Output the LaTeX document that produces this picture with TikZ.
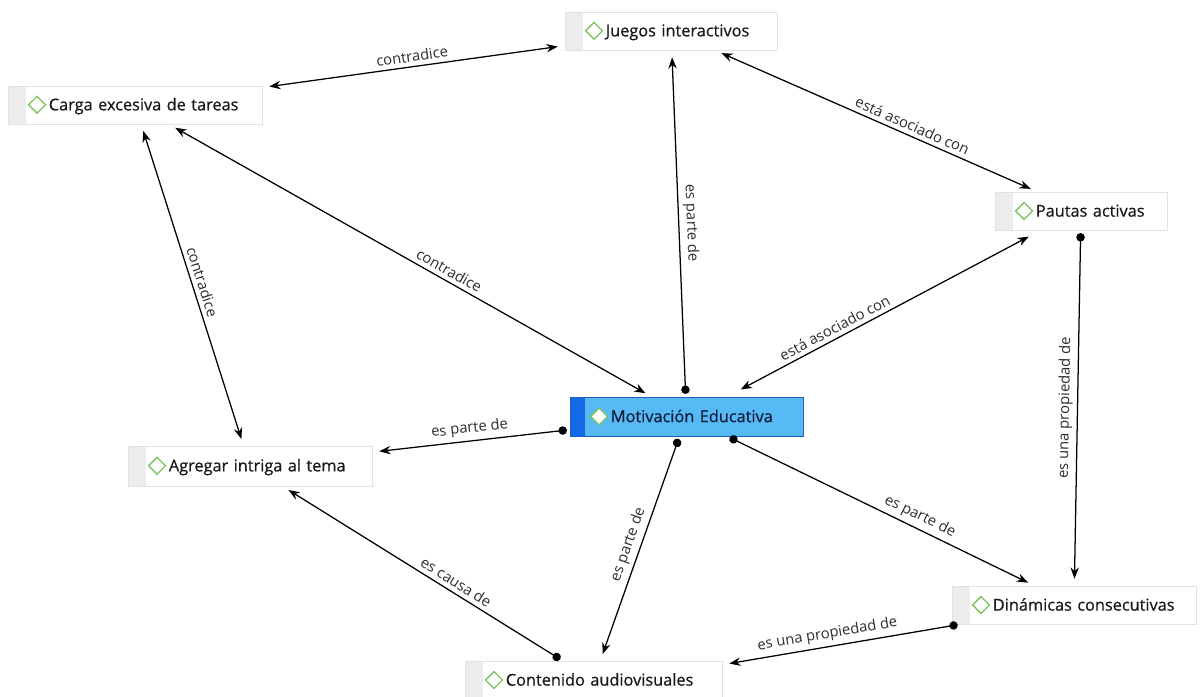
\documentclass[tikz,border=0pt]{standalone}
\usepackage{fontspec}
\setmainfont{Open Sans}
\newfontfamily\codefont[FakeBold=0.6]{Open Sans}
\usetikzlibrary{arrows.meta,calc}

\definecolor{boxline}{RGB}{225,225,225}
\definecolor{barfill}{RGB}{236,236,236}
\definecolor{gemgreen}{RGB}{125,195,95}
\definecolor{corefill}{RGB}{88,186,245}
\definecolor{coreline}{RGB}{30,95,190}
\definecolor{corebar}{RGB}{20,105,230}
\definecolor{ink}{RGB}{25,25,25}
\definecolor{coreink}{RGB}{15,30,60}
\definecolor{labink}{RGB}{45,45,45}

% green diamond in front of each code
\newcommand{\gem}[1][white]{\tikz[x=1cm,y=1cm,baseline=-4pt]\draw[gemgreen,line width=0.9pt,fill=#1] (0,0.21)--(0.21,0)--(0,-0.21)--(-0.21,0)--cycle;}
\newcommand{\code}[1]{\mbox{\gem\hspace{2pt}#1}}

\begin{document}
\begin{tikzpicture}[x=0.025cm,y=-0.025cm,
  concept/.style={draw=boxline, fill=white, text=ink, inner xsep=0.5cm, inner ysep=0pt,
    minimum height=0.95cm, align=left, font=\codefont\fontsize{11.6}{14}\selectfont,
    path picture={\fill[barfill] (path picture bounding box.north west) rectangle ([xshift=0.45cm]path picture bounding box.south west);}},
  core/.style={concept, draw=coreline, fill=corefill, text=coreink,
    path picture={\fill[corebar] (path picture bounding box.north west) rectangle ([xshift=0.37cm]path picture bounding box.south west);}},
  link/.style={draw=black, line width=0.9pt},
  oneway/.style={link, {Circle[length=6pt]}-{Stealth[length=8pt,width=6pt]}, shorten <=2pt, shorten >=5pt},
  twoway/.style={link, {Stealth[length=8pt,width=6pt]}-{Stealth[length=8pt,width=6pt]}, shorten <=5pt, shorten >=5pt},
  lab/.style={font=\fontsize{10.5}{12}\selectfont, text=labink, sloped, above, inner sep=3pt}]
\useasboundingbox (0,0) rectangle (1200,696);

% codes
\node[concept, text width=4.3cm] (juegos) at (671,31) {\code{Juegos interactivos}};
\node[concept, text width=5.35cm] (carga) at (135,105) {\code{Carga excesiva de tareas}};
\node[concept, text width=3.3cm] (pautas) at (1081,211) {\code{Pautas activas}};
\node[core, text width=4.825cm, minimum height=0.975cm] (motiv) at (686.5,416.5) {\code{Motivación Educativa}};
\node[concept, text width=5.1cm, minimum height=1cm] (agregar) at (250,466) {\code{Agregar intriga al tema}};
\node[concept, text width=5.1cm] (dinamicas) at (1074,605) {\code{Dinámicas consecutivas}};
\node[concept, text width=5.425cm] (contenido) at (593.5,680) {\code{Contenido audiovisuales}};

% links
\draw[twoway] (juegos) -- node[lab] {contradice} (carga);
\draw[twoway] (juegos) -- node[lab, pos=0.6] {está asociado con} (pautas);
\draw[oneway] (motiv) -- node[lab] {es parte de} (juegos);
\draw[twoway] (carga) -- node[lab, pos=0.57] {contradice} (motiv);
\draw[twoway] (carga) -- node[lab] {contradice} (agregar);
\draw[twoway] ($(motiv.north)+(48,-4)$) -- node[lab, pos=0.35] {está asociado con} ($(pautas.south)+(-46,3)$);
\draw[oneway] (pautas) -- node[lab] {es una propiedad de} (dinamicas);
\draw[oneway] (motiv) -- node[lab] {es parte de} (agregar);
\draw[oneway] (motiv) -- node[lab] {es parte de} (contenido);
\draw[oneway] (motiv) -- node[lab, pos=0.61] {es parte de} (dinamicas);
\draw[oneway] (contenido) -- node[lab, pos=0.4] {es causa de} (agregar);
\draw[oneway] (dinamicas) -- node[lab, pos=0.55] {es una propiedad de} ($(contenido.north east)+(0,4)$);
\end{tikzpicture}
\end{document}
